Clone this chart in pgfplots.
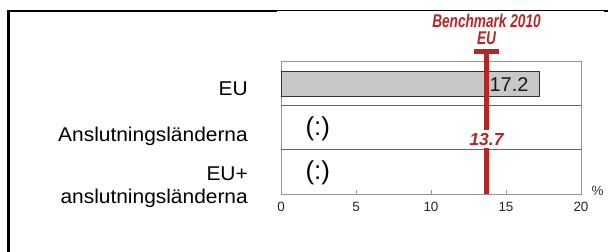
\documentclass[border=0pt]{standalone}
\usepackage{pgfplots}
\pgfplotsset{compat=1.18}
\usepackage{fontspec}
\setmainfont{Liberation Sans}
\newfontfamily\labfont[FakeStretch=1.05]{Liberation Sans}
\newfontfamily\redfont[FakeStretch=0.74]{Liberation Sans}
\definecolor{bmred}{RGB}{178,40,40}
\definecolor{barfill}{RGB}{200,200,200}
\definecolor{framegray}{RGB}{150,150,150}
\definecolor{sepgray}{RGB}{100,100,100}

\begin{document}
\begin{tikzpicture}
\path[use as bounding box] (0,0) rectangle (608bp,252bp);
\draw[line width=2.7bp] (8.7bp,0) -- (8.7bp,242.2bp);
\draw[line width=2.3bp] (7.3bp,241bp) -- (277bp,241bp);
\draw[line width=1bp] (277bp,241.5bp) -- (605bp,241.5bp);
\draw[line width=2.3bp] (604bp,241bp) -- (608bp,241bp);
\begin{axis}[
  at={(281bp,58bp)}, anchor=south west, scale only axis,
  width=300bp, height=132.5bp,
  xmin=0, xmax=20, ymin=0, ymax=3,
  clip=false,
  axis line style={draw=framegray, line width=0.8bp},
  xtick={0,5,10,15,20}, xtick pos=bottom, tick align=inside,
  major tick length=4bp,
  x tick style={framegray, line width=0.8bp},
  /pgf/number format/assume math mode=true,
  xticklabel style={font=\fontsize{13.5}{15}\selectfont, text=black!85, yshift=-4.5bp},
  ytick={0.152,1.295,2.389},
  yticklabels={{EU+\\anslutningsländerna},Anslutningsländerna,EU},
  y tick style={draw=none},
  yticklabel style={font=\labfont\fontsize{20}{23.3}\selectfont, align=right, inner sep=0pt, xshift=-33bp},
  extra y ticks={1,2}, extra y tick labels={},
  extra y tick style={grid=major, major grid style={sepgray, line width=0.8bp}},
]
\addplot[xbar, bar width=25bp, fill=barfill, draw=black!80, line width=0.8bp] coordinates {(17.2,2.49)};
\node[anchor=base east, font=\fontsize{20}{21}\selectfont, text=black!90] at (axis cs:16.73,2.332) {17.2};
\node[font=\fontsize{26}{27}\selectfont] at (axis cs:2.45,1.47) {(:)};
\node[font=\fontsize{26}{27}\selectfont] at (axis cs:2.45,0.476) {(:)};
\addplot[bmred, line width=5.7bp, line cap=butt] coordinates {(13.7,0) (13.7,3.26)};
\addplot[bmred, line width=4.5bp, line cap=butt] coordinates {(12.85,3.231) (14.55,3.231)};
\node[fill=white, inner xsep=1bp, inner ysep=2.5bp, font=\bfseries\itshape\fontsize{17.5}{18}\selectfont, text=bmred] at (axis cs:13.7,1.245) {13.7};
\node[anchor=base, font=\redfont\bfseries\itshape\fontsize{18.5}{19}\selectfont, text=bmred] at (axis cs:13.7,3.774) {Benchmark 2010};
\node[anchor=base, font=\redfont\bfseries\itshape\fontsize{18.5}{19}\selectfont, text=bmred] at (axis cs:13.7,3.389) {EU};
\node[font=\fontsize{13.5}{14}\selectfont, text=black!80] at (axis cs:21.1,0.061) {\%};
\end{axis}
\end{tikzpicture}
\end{document}
